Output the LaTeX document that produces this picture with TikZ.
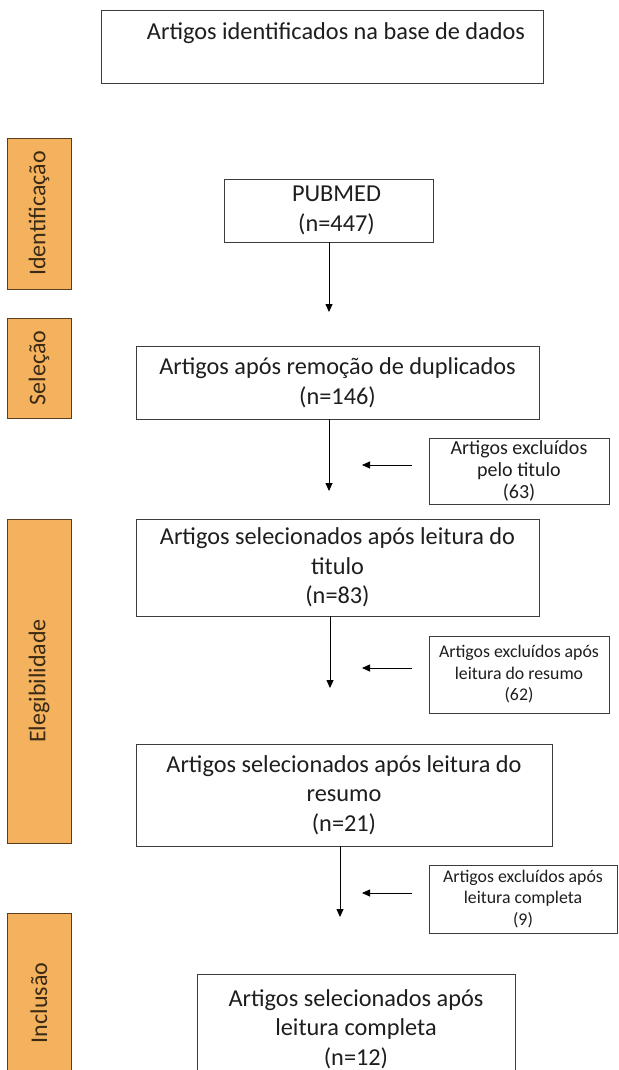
\documentclass[tikz,border=0pt]{standalone}
\usepackage{fontspec}
\setmainfont{Carlito}
\usetikzlibrary{arrows.meta}
\definecolor{phaseorange}{HTML}{F4B15E}
\definecolor{phasetext}{HTML}{3B2A14}
\definecolor{phaseedge}{HTML}{5A3E1E}
\definecolor{boxedge}{HTML}{3C3C3C}
\definecolor{txt}{HTML}{1E1E1E}
\begin{document}
\begin{tikzpicture}[x=1pt,y=-1pt,
  box/.style={draw=boxedge, line width=0.9pt, fill=white, align=center, inner sep=0pt,
    font=\fontsize{24.3}{29.5}\selectfont, text=txt},
  boxtext/.style={align=center, inner sep=0pt, font=\fontsize{24.3}{29.5}\selectfont, text=txt},
  excl/.style={draw=boxedge, line width=0.9pt, fill=white, align=center, inner sep=0pt,
    font=\fontsize{17.8}{21.5}\selectfont, text=txt},
  phase/.style={draw=phaseedge, line width=0.8pt, fill=phaseorange, inner sep=0pt,
    font=\fontsize{24}{28}\selectfont, text=phasetext, rotate=90},
  arr/.style={-{Triangle[length=8pt,width=7pt]}, line width=0.8pt, black}]
\useasboundingbox (0,0) rectangle (618,1070);
\clip (0,0) rectangle (618,1070);
\fill[white] (0,0) rectangle (618,1070);

% phase labels
\node[phase, minimum width=151pt, minimum height=64pt] (p1) at (39,213.5) {Identificação};
\node[phase, minimum width=100pt, minimum height=64pt] (p2) at (39,368) {Seleção};
\node[phase, minimum width=324pt, minimum height=64pt] (p3) at (39,681) {Elegibilidade};
\node[phase, minimum width=180pt, minimum height=64pt] (p4) at (39,1003) {Inclusão};

% top box
\node[box, minimum width=442pt, minimum height=73pt,
  label={[boxtext, anchor=north, yshift=-13pt, xshift=14pt]north:Artigos identificados na base de dados}] (top) at (322,46.5) {};

% main flow
\node[box, minimum width=209pt, minimum height=63pt,
  label={[boxtext, xshift=8pt]center:{PUBMED\\(n=447)}}] (pub) at (328.5,210.5) {};
\node[box, minimum width=403pt, minimum height=73pt] (sel) at (337.5,382.5) {Artigos após remoção de duplicados\\(n=146)};
\node[box, minimum width=403pt, minimum height=97pt] (tit) at (337.5,567.5) {Artigos selecionados após leitura do\\titulo\\(n=83)};
\node[box, minimum width=416pt, minimum height=102pt] (res) at (344,795) {Artigos selecionados após leitura do\\resumo\\(n=21)};
\node[box, minimum width=318pt, minimum height=110pt] (fin) at (356,1029) {Artigos selecionados após\\leitura completa\\(n=12)};

% excluded boxes
\node[excl, minimum width=180pt, minimum height=66pt, font=\fontsize{20}{22}\selectfont] (ex1) at (519,471) {Artigos excluídos\\pelo titulo\\(63)};
\node[excl, minimum width=180pt, minimum height=77pt] (ex2) at (519,674.5) {Artigos excluídos após\\leitura do resumo\\(62)};
\node[excl, minimum width=188pt, minimum height=68pt] (ex3) at (523,899) {Artigos excluídos após\\leitura completa\\(9)};

% down arrows
\coordinate (d1) at (329,312);
\coordinate (d2) at (329,491);
\coordinate (d3) at (330,688);
\coordinate (d4) at (340,917);
\draw[arr] (d1 |- pub.south) -- (d1);
\draw[arr] (d2 |- sel.south) -- (d2);
\draw[arr] (d3 |- tit.south) -- (d3);
\draw[arr] (d4 |- res.south) -- (d4);

% left arrows
\coordinate (l1s) at (412,465); \coordinate (l1e) at (362,465);
\coordinate (l2s) at (412,668); \coordinate (l2e) at (362,668);
\coordinate (l3s) at (412,893); \coordinate (l3e) at (362,893);
\draw[arr] (l1s) -- (l1e);
\draw[arr] (l2s) -- (l2e);
\draw[arr] (l3s) -- (l3e);
\end{tikzpicture}
\end{document}
